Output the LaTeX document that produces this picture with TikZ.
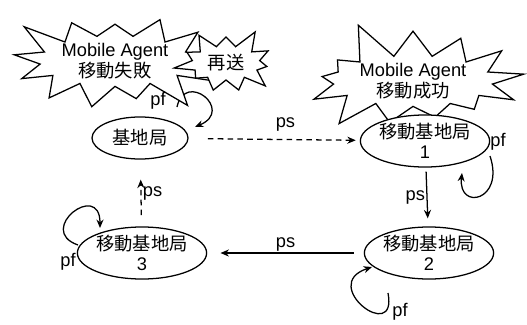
\documentclass[tikz,border=0pt]{standalone}
\usepackage{fontspec}
\setmainfont{Liberation Sans}
\newfontfamily\jp{Noto Sans CJK JP}
\usetikzlibrary{shapes.geometric,shapes.symbols,arrows.meta}
\tikzset{
  station/.style={draw,ellipse,fill=white,inner sep=0pt,minimum width=2.4cm,
    minimum height=1.3cm,align=center,font=\fontsize{13}{14}\selectfont},
  burst/.style={draw,starburst,fill=white,inner sep=0pt,align=center,
    font=\fontsize{13}{15}\selectfont},
  link/.style={-{Stealth[length=6pt,width=5pt]}},
  lbl/.style={font=\fontsize{13}{14}\selectfont,inner sep=1pt},
  dash line/.style={dash pattern=on 4pt off 3pt}
}
\begin{document}
\begin{tikzpicture}[x=0.025cm,y=-0.025cm,line width=0.9pt]
\useasboundingbox (0,0) rectangle (527,324);
% burst on the right
\node[burst,starburst points=13,starburst point height=1cm,random starburst=5,
  minimum width=6cm,minimum height=2.5cm] (okay) at (413,81)
  {Mobile Agent\\{\jp 移動成功}};
% stations
\node[station,minimum height=1.05cm] (base) at (140,138) {\jp 基地局};
\node[station] (m1) at (425,141) {\jp 移動基地局\\1};
\node[station] (m2) at (429,253) {\jp 移動基地局\\2};
\node[station] (m3) at (142,253) {\jp 移動基地局\\3};
% ps links
\draw[link,dash line,shorten <=0.48cm,shorten >=0.1cm] (base) -- (m1)
  node[lbl,midway,above=4pt,xshift=8pt] (ps1) {ps};
\draw[link,shorten <=0.1cm,shorten >=0.2cm] (m1) -- (m2)
  node[lbl,midway,left] (ps2) {ps};
\draw[link,shorten <=0.25cm,shorten >=0.33cm] (m2) -- (m3)
  node[lbl,midway,above] (ps3) {ps};
\draw[link,dash line,shorten <=0.28cm,shorten >=0.5cm] (m3) -- (base)
  node[lbl,midway,right] (ps4) {ps};
% pf loops
\draw[link] ([shift={(65,15)}]m1.center) .. controls +(15,45) and +(-4,38) .. ([shift={(37,32)}]m1.center);
\node[lbl] (pf1) at (498,142) {pf};
\draw[link] ([shift={(-41,40)}]m2.center) .. controls +(10,52) and +(-54,18) .. ([shift={(-57,14)}]m2.center);
\node[lbl] (pf2) at (400,312) {pf};
\draw[link] ([shift={(-64,-8)}]m3.center) .. controls +(-43,-15) and +(0,-48) .. ([shift={(-42,-25)}]m3.center);
\node[lbl] (pf3) at (68,262) {pf};
\draw[link] ([shift={(37,-31)}]base.center) .. controls +(8,-37) and +(40,-17) .. ([shift={(55,-11)}]base.center);
% bursts on the left
\node[burst,starburst points=13,starburst point height=0.9cm,random starburst=3,
  minimum width=5.2cm,minimum height=2.3cm] (fail) at (115,61)
  {Mobile Agent\\{\jp 移動失敗}};
\node[burst,starburst points=11,starburst point height=0.5cm,random starburst=9,
  minimum width=2.7cm,minimum height=1.85cm] (resend) at (226,63) {\jp 再送};
\node[lbl] (pf4) at (158,101) {pf};
\end{tikzpicture}
\end{document}
